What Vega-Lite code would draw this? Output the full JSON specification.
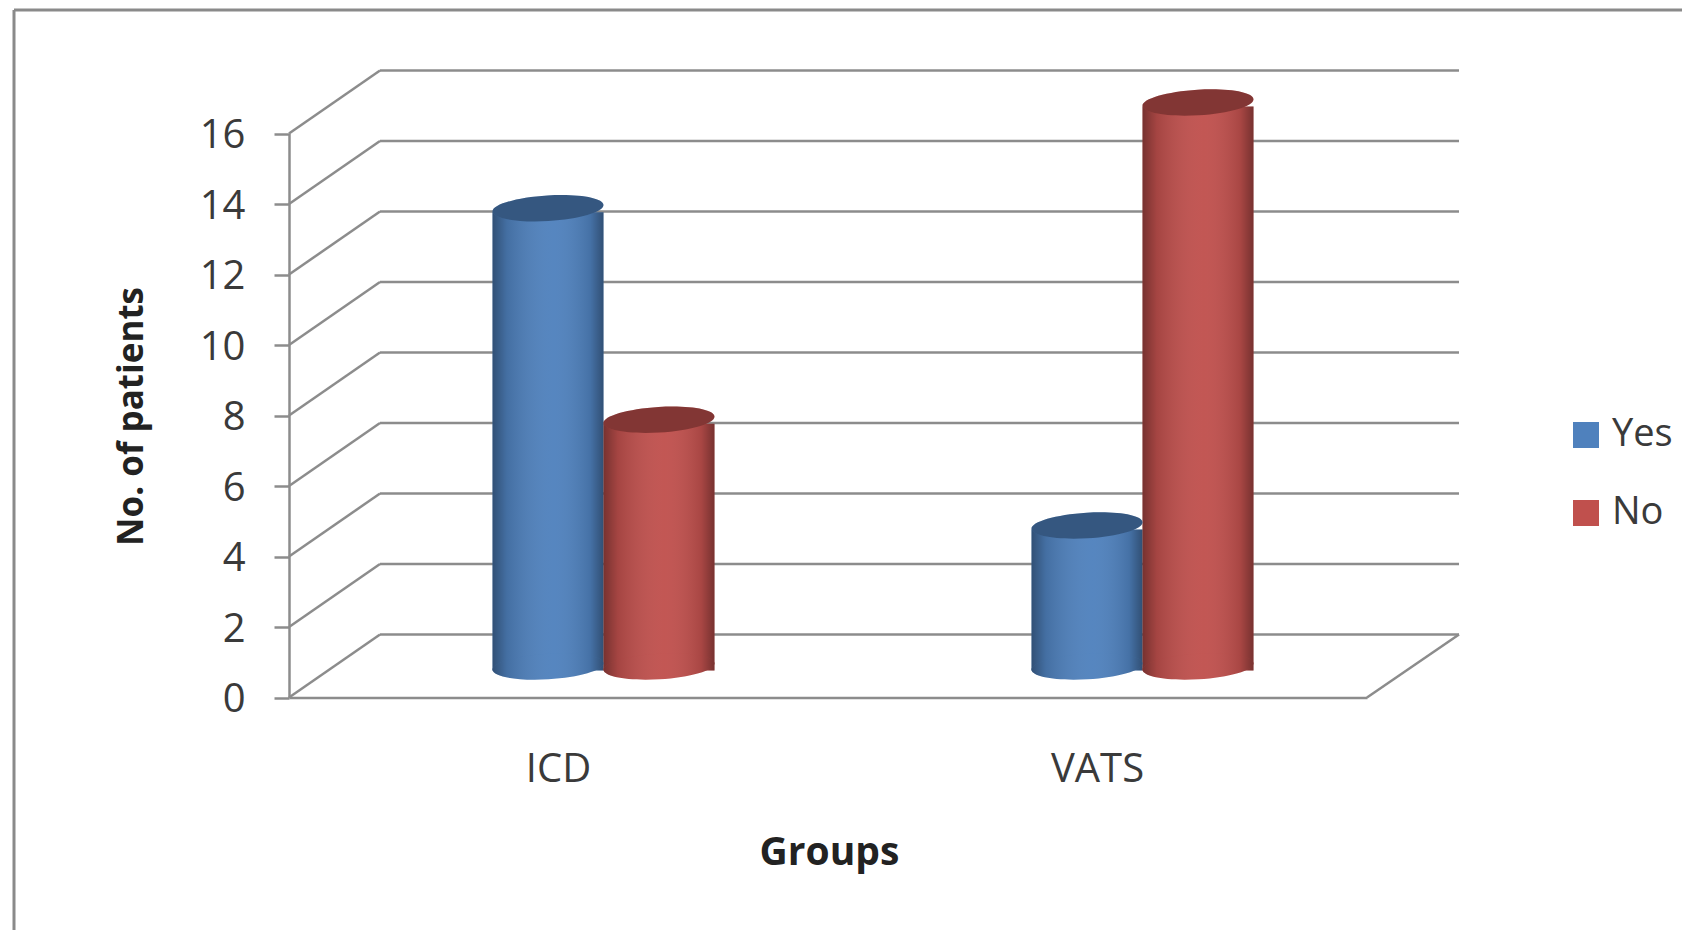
{
  "$schema": "https://vega.github.io/schema/vega-lite/v6.json",
  "width": 1668,
  "height": 920,
  "padding": {"left": 14, "top": 10, "right": 0, "bottom": 0},
  "autosize": "none",
  "background": "white",
  "config": {
    "view": {"stroke": null},
    "font": "Open Sans",
    "axis": {"grid": false, "labelFont": "Open Sans", "titleFont": "Open Sans"},
    "legend": {"labelFont": "Open Sans"}
  },
  "datasets": {
    "counts": [
      {"group": "ICD", "answer": "Yes", "patients": 13, "base": 0},
      {"group": "ICD", "answer": "No", "patients": 7, "base": 0},
      {"group": "VATS", "answer": "Yes", "patients": 4, "base": 0},
      {"group": "VATS", "answer": "No", "patients": 16, "base": 0}
    ],
    "ticks": [
      {"tick": 0}, {"tick": 2}, {"tick": 4}, {"tick": 6}, {"tick": 8},
      {"tick": 10}, {"tick": 12}, {"tick": 14}, {"tick": 16}
    ]
  },
  "data": {"name": "counts"},
  "encoding": {
    "x": {
      "field": "group",
      "type": "nominal",
      "scale": {"domain": ["ICD", "VATS"], "range": [275, 1353], "paddingInner": 0, "paddingOuter": 0},
      "axis": {
        "orient": "bottom",
        "offset": -232.5,
        "labelAngle": 0,
        "labelFontSize": 40,
        "labelColor": "#3a3a3a",
        "labelPadding": 52,
        "ticks": false,
        "domainColor": "#8c8c8c",
        "domainWidth": 2.5,
        "title": "Groups",
        "titleFontSize": 39,
        "titleFontWeight": "bold",
        "titleColor": "#222222",
        "titleX": 815,
        "titleY": 155,
        "titleBaseline": "middle"
      }
    },
    "y": {
      "type": "quantitative",
      "scale": {"domain": [0, 16], "range": [687.5, 123.5], "nice": false},
      "axis": {
        "orient": "left",
        "offset": -275,
        "values": [0, 2, 4, 6, 8, 10, 12, 14, 16],
        "labelFontSize": 40,
        "labelColor": "#3a3a3a",
        "labelPadding": 29,
        "labelOffset": 2,
        "tickSize": 15,
        "tickColor": "#8c8c8c",
        "tickWidth": 2.5,
        "domainColor": "#8c8c8c",
        "domainWidth": 2.5,
        "title": "No. of patients",
        "titleFontSize": 35,
        "titleFontWeight": "bold",
        "titleColor": "#222222",
        "titleX": -158,
        "titleY": 406,
        "titleBaseline": "middle"
      }
    }
  },
  "layer": [
    {
      "data": {"values": [{"edge": "top"}]},
      "mark": {"type": "rule", "color": "#8a8a8a", "strokeWidth": 3},
      "encoding": {"x": null, "y": {"value": 0}}
    },
    {
      "data": {"values": [{"edge": "left"}]},
      "mark": {"type": "rule", "color": "#8a8a8a", "strokeWidth": 3},
      "encoding": {"x": {"value": 0}, "y": null}
    },
    {
      "data": {"name": "ticks"},
      "mark": {"type": "rule", "color": "#8c8c8c", "strokeWidth": 2.5, "x2Offset": -178.5, "y2Offset": -63},
      "encoding": {
        "x": {"datum": "ICD", "bandPosition": 0},
        "x2": {"datum": "ICD"},
        "y": {"field": "tick", "type": "quantitative"},
        "y2": {"field": "tick"}
      }
    },
    {
      "data": {"name": "ticks"},
      "mark": {"type": "rule", "color": "#8c8c8c", "strokeWidth": 2.5, "xOffset": 91, "x2Offset": 361.5, "yOffset": -63, "y2Offset": -63},
      "encoding": {
        "x": {"datum": "ICD", "bandPosition": 0},
        "x2": {"datum": "VATS"},
        "y": {"field": "tick", "type": "quantitative"},
        "y2": {"field": "tick"}
      }
    },
    {
      "data": {"values": [{"tick": 0}]},
      "mark": {"type": "rule", "color": "#8c8c8c", "strokeWidth": 2.5, "x2Offset": 361.5, "y2Offset": -63},
      "encoding": {
        "x": {"datum": "VATS", "bandPosition": 1},
        "x2": {"datum": "VATS"},
        "y": {"field": "tick", "type": "quantitative"},
        "y2": {"field": "tick"}
      }
    },
    {
      "mark": {"type": "bar", "yOffset": -27, "y2Offset": -32.5},
      "encoding": {
        "y": {"field": "patients", "type": "quantitative"},
        "xOffset": {"field": "answer", "scale": {"domain": ["Yes", "No"], "range": [203.5, 425.5], "paddingOuter": 0, "paddingInner": 0}},
        "color": {
          "field": "answer",
          "scale": {"domain": ["Yes", "No"], "range": ["#4f81bd", "#c0504d"]},
          "legend": {
            "title": null,
            "orient": "none",
            "legendX": 1553,
            "legendY": 406,
            "symbolType": "square",
            "symbolSize": 676,
            "symbolStrokeWidth": 0,
            "labelFontSize": 38,
            "labelColor": "#3a3a3a",
            "labelOffset": 7,
            "rowPadding": 40
          }
        }
      }
    },
    {
      "mark": {
        "type": "bar",
        "yOffset": -27,
        "y2Offset": -32.5,
        "fill": {
          "gradient": "linear",
          "x1": 0,
          "x2": 1,
          "y1": 0,
          "y2": 0,
          "stops": [
            {"offset": 0, "color": "rgba(0,0,0,0.38)"},
            {"offset": 0.13, "color": "rgba(0,0,0,0.14)"},
            {"offset": 0.55, "color": "rgba(255,255,255,0.04)"},
            {"offset": 0.88, "color": "rgba(0,0,0,0.12)"},
            {"offset": 1, "color": "rgba(0,0,0,0.38)"}
          ]
        }
      },
      "encoding": {
        "y": {"field": "patients", "type": "quantitative"},
        "xOffset": {"field": "answer", "scale": {"domain": ["Yes", "No"], "range": [203.5, 425.5], "paddingOuter": 0, "paddingInner": 0}}
      }
    },
    {
      "mark": {"type": "point", "filled": true, "opacity": 1, "yOffset": -31, "size": 12321, "shape": "M -1 0.06 A 1 0.23 -3.5 1 1 1 -0.06 A 1 0.23 -3.5 1 1 -1 0.06 Z"},
      "encoding": {
        "y": {"field": "base", "type": "quantitative"},
        "xOffset": {"field": "answer", "scale": {"domain": ["Yes", "No"], "range": [203.5, 425.5], "paddingOuter": 0, "paddingInner": 0}},
        "color": {"field": "answer", "scale": {"domain": ["Yes", "No"], "range": ["#4f81bd", "#c0504d"]}}
      }
    },
    {
      "mark": {
        "type": "point",
        "filled": true,
        "opacity": 1,
        "yOffset": -31,
        "size": 12321,
        "shape": "M -1 0.06 A 1 0.23 -3.5 1 1 1 -0.06 A 1 0.23 -3.5 1 1 -1 0.06 Z",
        "fill": {
          "gradient": "linear",
          "x1": 0,
          "x2": 1,
          "y1": 0,
          "y2": 0,
          "stops": [
            {"offset": 0, "color": "rgba(0,0,0,0.38)"},
            {"offset": 0.13, "color": "rgba(0,0,0,0.14)"},
            {"offset": 0.55, "color": "rgba(255,255,255,0.04)"},
            {"offset": 0.88, "color": "rgba(0,0,0,0.12)"},
            {"offset": 1, "color": "rgba(0,0,0,0.38)"}
          ]
        }
      },
      "encoding": {
        "y": {"field": "base", "type": "quantitative"},
        "xOffset": {"field": "answer", "scale": {"domain": ["Yes", "No"], "range": [203.5, 425.5], "paddingOuter": 0, "paddingInner": 0}}
      }
    },
    {
      "mark": {"type": "point", "filled": true, "opacity": 1, "yOffset": -31, "size": 12321, "shape": "M -1 0.06 A 1 0.23 -3.5 1 1 1 -0.06 A 1 0.23 -3.5 1 1 -1 0.06 Z"},
      "encoding": {
        "y": {"field": "patients", "type": "quantitative"},
        "xOffset": {"field": "answer", "scale": {"domain": ["Yes", "No"], "range": [203.5, 425.5], "paddingOuter": 0, "paddingInner": 0}},
        "color": {"field": "answer", "scale": {"domain": ["Yes", "No"], "range": ["#4f81bd", "#c0504d"]}}
      }
    },
    {
      "mark": {"type": "point", "filled": true, "color": "#000000", "opacity": 0.32, "yOffset": -31, "size": 12321, "shape": "M -1 0.06 A 1 0.23 -3.5 1 1 1 -0.06 A 1 0.23 -3.5 1 1 -1 0.06 Z"},
      "encoding": {
        "y": {"field": "patients", "type": "quantitative"},
        "xOffset": {"field": "answer", "scale": {"domain": ["Yes", "No"], "range": [203.5, 425.5], "paddingOuter": 0, "paddingInner": 0}}
      }
    }
  ]
}
